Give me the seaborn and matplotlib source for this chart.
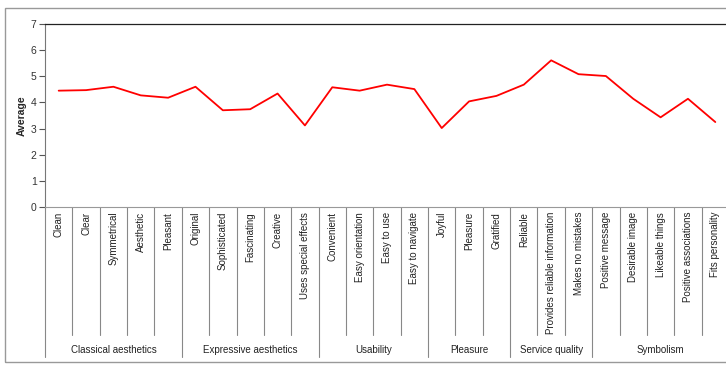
import matplotlib
matplotlib.use("Agg")
import matplotlib.pyplot as plt
import matplotlib.transforms as mtransforms
from matplotlib.patches import Rectangle
import seaborn as sns
import pandas as pd

# categories along the x axis (in order) and their groups
items = ["Clean", "Clear", "Symmetrical", "Aesthetic", "Pleasant",
         "Original", "Sophisticated", "Fascinating", "Creative", "Uses special effects",
         "Convenient", "Easy orientation", "Easy to use", "Easy to navigate",
         "Joyful", "Pleasure", "Gratified",
         "Reliable", "Provides reliable information", "Makes no mistakes",
         "Positive message", "Desirable image", "Likeable things",
         "Positive associations", "Fits personality"]
groups = ["Classical aesthetics", "Expressive aesthetics", "Usability",
          "Pleasure", "Service quality", "Symbolism"]
group_sizes = [5, 5, 4, 3, 3, 5]
averages = [4.45, 4.47, 4.60, 4.27, 4.18,
            4.60, 3.70, 3.74, 4.34, 3.12,
            4.58, 4.45, 4.68, 4.51,
            3.02, 4.04, 4.25,
            4.68, 5.61, 5.08,
            5.01, 4.14, 3.43, 4.14, 3.25]
yticks = [0, 1, 2, 3, 4, 5, 6, 7]

sns.set_style("white")
plt.rcParams['font.family'] = ['Liberation Sans', 'DejaVu Sans']

df = pd.DataFrame({"pos": range(len(items)), "Average": averages})

fig = plt.figure(figsize=(7.26, 3.65), dpi=100)
ax = fig.add_axes([45 / 726, 1 - 207 / 365, 684 / 726, 183 / 365])

sns.lineplot(data=df, x="pos", y="Average", color="#ff0000", linewidth=1.3, ax=ax)

ax.set_xlim(-0.5, len(items) - 0.5)
ax.set_ylim(0, 7)
ax.set_yticks(yticks)
ax.set_yticklabels([str(t) for t in yticks], fontsize=7.5, color="#333333")
ax.set_xticks([])
ax.set_xlabel("")
ax.set_ylabel("Average", fontsize=7.5, fontweight="bold", labelpad=3)
ax.tick_params(axis="y", direction="out", length=4, width=0.8, color="#555555", pad=2, left=True)

ax.spines["right"].set_visible(False)
ax.spines["top"].set_color("#222222")
ax.spines["top"].set_linewidth(0.9)
ax.spines["left"].set_color("#777777")
ax.spines["left"].set_linewidth(0.8)
ax.spines["bottom"].set_color("#999999")
ax.spines["bottom"].set_linewidth(0.8)

# category table below the plot
trans = mtransforms.blended_transform_factory(ax.transData, ax.transAxes)
bounds = [0]
for s in group_sizes:
    bounds.append(bounds[-1] + s)

for i in range(len(items) + 1):
    low = -0.82 if i in bounds else -0.70
    ax.plot([i - 0.5, i - 0.5], [0, low], transform=trans, color="#888888",
            linewidth=0.8, clip_on=False)

for i, name in enumerate(items):
    ax.text(i, -0.027, name, transform=trans, rotation=90, ha="center", va="top",
            fontsize=7, color="#222222")

for g, name in enumerate(groups):
    mid = (bounds[g] + bounds[g + 1]) / 2 - 0.5
    ax.text(mid, -0.78, name, transform=trans, ha="center", va="center",
            fontsize=7, color="#222222")

# outer chart frame
fig.patches.append(Rectangle((5 / 726, 1 - 362 / 365), 0.999, 354 / 365,
                             transform=fig.transFigure, fill=False,
                             edgecolor="#999999", linewidth=1.0))

plt.savefig("out.png", dpi=100)
